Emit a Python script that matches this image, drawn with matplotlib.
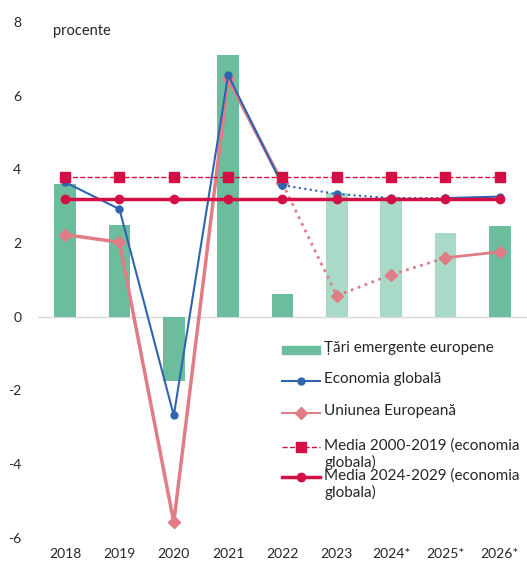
import numpy as np
import matplotlib.pyplot as plt
from matplotlib.lines import Line2D
from matplotlib.patches import Rectangle

plt.rcParams['font.family'] = ['Lato', 'DejaVu Sans']
plt.rcParams['axes.unicode_minus'] = False

years = ['2018', '2019', '2020', '2021', '2022', '2023', '2024*', '2025*', '2026*']
emergente = [3.6, 2.5, -1.75, 7.1, 0.62, 3.35, 3.25, 2.28, 2.45]
globala = [3.65, 2.92, -2.68, 6.56, 3.57, 3.33, 3.22, 3.22, 3.26]
ue = [2.23, 2.02, -5.58, 6.46, 3.62, 0.57, 1.14, 1.6, 1.76]
media_2000_2019 = [3.8] * 9
media_2024_2029 = [3.2] * 9
# bars for 2023-2025 are projections, drawn lighter
projected = [False, False, False, False, False, True, True, True, False]

legend_labels = ['Țări emergente europene', 'Economia globală', 'Uniunea Europeană',
                 'Media 2000-2019 (economia\nglobala)', 'Media 2024-2029 (economia\nglobala)']

green = '#6bbd9e'
green_light = '#a9d9c7'
blue = '#2f65b0'
pink = '#e07c86'
red = '#d40f45'
text_col = '#262626'

x = np.arange(len(years))

fig = plt.figure(figsize=(5.27, 5.62), dpi=100)
ax = fig.add_axes([0.072, 0.043, 0.928, 0.918])

bar_colors = [green_light if p else green for p in projected]
ax.bar(x, emergente, width=0.4, color=bar_colors, zorder=2)

# solid up to 2022, dotted for 2022-2025, solid again for the last step
gstyle = dict(color=blue, lw=1.5, marker='o', ms=5, zorder=4)
ax.plot(x[:5], globala[:5], **gstyle)
ax.plot(x[4:8], globala[4:8], ls=':', **gstyle)
ax.plot(x[7:], globala[7:], **gstyle)

ustyle = dict(color=pink, marker='D', ms=6, zorder=3)
ax.plot(x[:5], ue[:5], lw=2.5, **ustyle)
ax.plot(x[4:8], ue[4:8], lw=2, ls=':', **ustyle)
ax.plot(x[7:], ue[7:], lw=2, **ustyle)

m1style = dict(color=red, lw=1, ls='--', marker='s', ms=7, zorder=5)
m2style = dict(color=red, lw=2.5, marker='o', ms=6, zorder=5)
ax.plot(x, media_2000_2019, **m1style)
ax.plot(x, media_2024_2029, **m2style)

ax.axhline(0, color='#d9d9d9', lw=1, zorder=1)

ax.set_xlim(-0.5, 8.5)
ax.set_ylim(-6, 8)
ax.set_yticks([-6, -4, -2, 0, 2, 4, 6, 8])
ax.set_xticks(x)
ax.set_xticklabels(years)
ax.tick_params(length=0, labelsize=10, colors=text_col, pad=7)
ax.tick_params(axis='y', pad=12)
for s in ax.spines.values():
    s.set_visible(False)

ax.text(0.03, 0.995, 'procente', transform=ax.transAxes, fontsize=10.5,
        color=text_col, va='top')

# legend laid out by hand: handles sit level with the first text line
hx0, hx1, tx = 0.499, 0.577, 0.585
rows = [0.364, 0.304, 0.242, 0.176, 0.118]
ax.add_patch(Rectangle((hx0, rows[0] - 0.007), hx1 - hx0, 0.014, color=green,
                       transform=ax.transAxes, clip_on=False))
for y, st in zip(rows[1:], [gstyle, ustyle, m1style, m2style]):
    st = dict(st)
    st.pop('zorder')
    ms = st.pop('ms')
    ax.add_line(Line2D([hx0, hx1], [y, y], transform=ax.transAxes, **st,
                       markersize=ms, markevery=[], clip_on=False))
    ax.add_line(Line2D([(hx0 + hx1) / 2], [y], transform=ax.transAxes,
                       color=st['color'], marker=st['marker'], markersize=ms,
                       ls='none', clip_on=False))
for y, lab in zip(rows, legend_labels):
    ax.text(tx, y + 0.017, lab, transform=ax.transAxes, fontsize=11,
            color=text_col, va='top', linespacing=1.2)

fig.savefig('out.png', dpi=100)
